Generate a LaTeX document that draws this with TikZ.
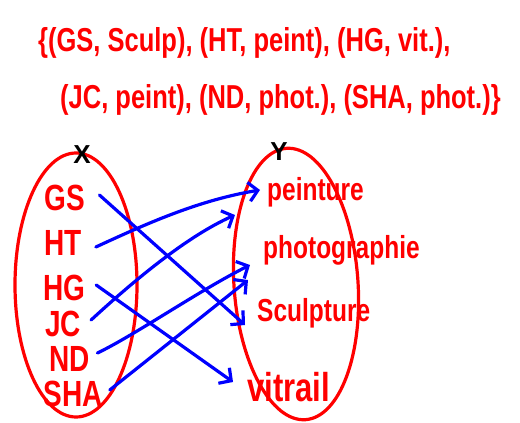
\documentclass[tikz,border=0pt]{standalone}
\usepackage{fontspec}
\usepackage{graphicx}
\setmainfont{Liberation Sans}
\usetikzlibrary{arrows.meta,calc}
\newcommand\tallt[1]{\scalebox{1}[1.3]{#1}}
\begin{document}
\begin{tikzpicture}[x=1pt,y=-1pt,
  pairtext/.style={text=red, inner sep=0pt, anchor=west, font=\fontsize{25.5}{28}\selectfont\bfseries},
  domlab/.style={text=red, inner sep=0pt, font=\fontsize{28}{28}\selectfont\bfseries},
  codlab/.style={text=red, inner sep=0pt, anchor=west, font=\fontsize{24.5}{26}\selectfont\bfseries},
  setname/.style={text=black, inner sep=0pt, font=\fontsize{26}{26}\selectfont\bfseries},
  setel/.style={draw=red, line width=3.2pt},
  maparrow/.style={draw=blue, line width=3.2pt, line cap=round,
    -{Straight Barb[length=9pt,width=19pt,line width=3.2pt]}}]
\useasboundingbox (0,0) rectangle (520,423);
\fill[white] (0,0) rectangle (520,423);

% pairs
\node[pairtext] (l1) at (38,43) {\tallt{\{(GS, Sculp), (HT, peint), (HG, vit.),}};
\node[pairtext] (l2) at (60,100) {\tallt{(JC, peint), (ND, phot.), (SHA, phot.)\}}};

% sets
\draw[setel] (76,285) ellipse [x radius=61, y radius=132];
\draw[setel, rotate around={4:(296,284)}] (296,284) ellipse [x radius=62, y radius=136];
\node[setname] (X) at (82,155) {X};
\node[setname] (Y) at (279,152) {Y};

% domain
\node[domlab] (GS) at (65,198) {\tallt{GS}};
\node[domlab] (HT) at (63,243) {\tallt{HT}};
\node[domlab] (HG) at (64,288) {\tallt{HG}};
\node[domlab] (JC) at (63,324) {\tallt{JC}};
\node[domlab] (ND) at (70,359) {\tallt{ND}};
\node[domlab] (SHA) at (73,394) {\tallt{SHA}};

% codomain
\node[codlab] (pei) at (267,192) {\tallt{peinture}};
\node[codlab] (pho) at (263,250) {\tallt{photographie}};
\node[codlab] (scu) at (257,313) {\tallt{Sculpture}};
\node[codlab, font=\fontsize{31}{31}\selectfont\bfseries] (vit) at (247,387) {\tallt{vitrail}};

% mapping
\draw[maparrow] ([xshift=14pt,yshift=3pt]GS.east) -- ([xshift=-12pt,yshift=-12pt]scu.west);
\draw[maparrow] ([xshift=14pt,yshift=-4pt]HT.east) .. controls (150,222) and (200,200) .. ([xshift=-7pt,yshift=2pt]pei.west);
\draw[maparrow] ([xshift=11pt,yshift=3pt]HG.east) -- ([xshift=-14pt,yshift=5pt]vit.west);
\draw[maparrow] ([xshift=10pt,yshift=4pt]JC.east) .. controls (140,275) and (190,235) .. ([xshift=-32pt,yshift=-23pt]pei.west);
\draw[maparrow] ([xshift=7pt,yshift=6pt]ND.east) .. controls (135,335) and (200,290) .. ([xshift=-13pt,yshift=-15pt]pho.west);
\draw[maparrow] ([xshift=7pt,yshift=4pt]SHA.east) -- ([xshift=-15pt,yshift=-30pt]pho.west);
\end{tikzpicture}
\end{document}
